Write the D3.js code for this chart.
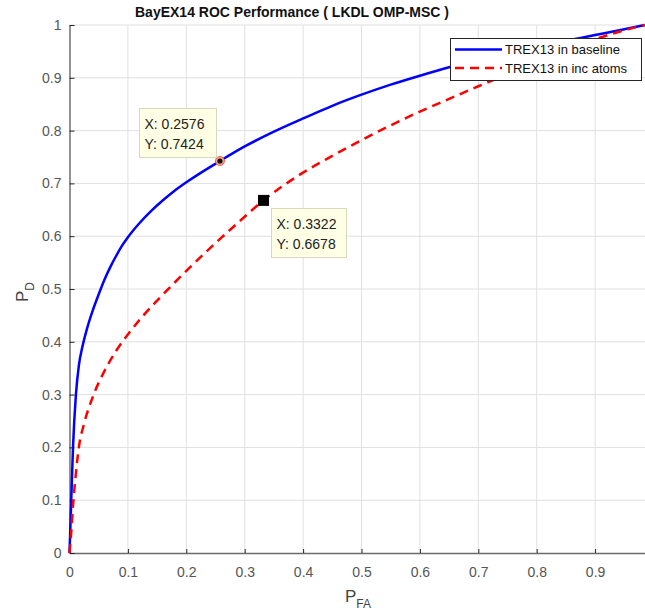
<!DOCTYPE html>
<html>
<head>
<meta charset="utf-8">
<script src="https://cdn.jsdelivr.net/npm/d3@7/dist/d3.min.js"></script>
<style>
  html, body { margin: 0; padding: 0; background: #fff; }
  svg { display: block; font-family: "Liberation Sans", Arial, sans-serif; }
</style>
</head>
<body>
<svg id="chart" width="645" height="613"></svg>
<script>
// ROC curves: probability of false alarm (x) vs probability of detection (y)
const baselinePfa = [0, 0.003, 0.006, 0.011, 0.016, 0.022, 0.03, 0.04, 0.05, 0.06, 0.07, 0.08, 0.09, 0.1, 0.12, 0.14, 0.16, 0.18, 0.2, 0.2576, 0.3, 0.35, 0.4, 0.45, 0.5, 0.55, 0.6, 0.65, 0.7, 0.75, 0.8, 0.85, 0.9, 0.95, 0.985];
const baselinePd  = [0, 0.1, 0.2, 0.3, 0.355, 0.39, 0.425, 0.46, 0.49, 0.518, 0.542, 0.563, 0.582, 0.598, 0.625, 0.648, 0.668, 0.686, 0.702, 0.7424, 0.77, 0.798, 0.823, 0.847, 0.868, 0.887, 0.904, 0.92, 0.934, 0.947, 0.959, 0.97, 0.981, 0.992, 1.0];
const incPfa = [0, 0.003, 0.006, 0.01, 0.016, 0.025, 0.04, 0.06, 0.08, 0.1, 0.125, 0.15, 0.178, 0.21, 0.25, 0.29, 0.3322, 0.395, 0.45, 0.5, 0.55, 0.6, 0.65, 0.7, 0.75, 0.8, 0.85, 0.9, 0.95, 0.985];
const incPd  = [0, 0.04, 0.09, 0.14, 0.2, 0.245, 0.296, 0.345, 0.383, 0.414, 0.448, 0.478, 0.51, 0.545, 0.587, 0.627, 0.6678, 0.717, 0.752, 0.782, 0.81, 0.836, 0.86, 0.884, 0.907, 0.93, 0.952, 0.973, 0.99, 1.0];

const seriesNames = ["TREX13 in baseline", "TREX13 in inc atoms"];
const xTicks = [0, 0.1, 0.2, 0.3, 0.4, 0.5, 0.6, 0.7, 0.8, 0.9];
const yTicks = [0, 0.1, 0.2, 0.3, 0.4, 0.5, 0.6, 0.7, 0.8, 0.9, 1];
const xTickLabels = ["0", "0.1", "0.2", "0.3", "0.4", "0.5", "0.6", "0.7", "0.8", "0.9"];
const yTickLabels = ["0", "0.1", "0.2", "0.3", "0.4", "0.5", "0.6", "0.7", "0.8", "0.9", "1"];

// Data tips: [pfa, pd]
const tipCircle = [0.2576, 0.7424];
const tipSquare = [0.3322, 0.6678];

const svg = d3.select("#chart");
const plotLeft = 69.5, plotRight = 653.5, plotTop = 25, plotBottom = 553;

const x = d3.scaleLinear().domain([0, 1]).range([plotLeft, plotRight]);
const y = d3.scaleLinear().domain([0, 1]).range([plotBottom, plotTop]);

// grid
const grid = svg.append("g");
grid.selectAll("line.gx").data(xTicks.slice(1)).join("line")
  .attr("x1", d => x(d)).attr("x2", d => x(d))
  .attr("y1", plotTop).attr("y2", plotBottom)
  .attr("stroke", "#e0e0e0").attr("stroke-width", 1);
grid.selectAll("line.gy").data(yTicks.slice(1)).join("line")
  .attr("x1", plotLeft).attr("x2", plotRight)
  .attr("y1", d => y(d)).attr("y2", d => y(d))
  .attr("stroke", "#e0e0e0").attr("stroke-width", 1);

// axes (ticks pointing inward)
const xAxis = d3.axisBottom(x).tickValues(xTicks)
  .tickFormat((d, i) => xTickLabels[i]).tickSizeInner(-4).tickSizeOuter(0).tickPadding(14);
const gx = svg.append("g").attr("transform", `translate(0,${plotBottom})`).call(xAxis);
gx.select(".domain").attr("stroke", "#6b6b6b").attr("stroke-width", 1.5);
gx.selectAll(".tick line").attr("stroke", "#262626");
gx.selectAll(".tick text").attr("fill", "#555").style("font-size", "14px")
  .style("font-family", "'Liberation Sans', Arial, sans-serif");

const yAxis = d3.axisLeft(y).tickValues(yTicks)
  .tickFormat((d, i) => yTickLabels[i]).tickSizeInner(-5).tickSizeOuter(0).tickPadding(8);
const gy = svg.append("g").attr("transform", `translate(${plotLeft},0)`).call(yAxis);
gy.select(".domain").attr("stroke", "#262626").attr("stroke-width", 1);
gy.selectAll(".tick line").attr("stroke", "#262626");
gy.selectAll(".tick text").attr("fill", "#555").style("font-size", "14px")
  .style("font-family", "'Liberation Sans', Arial, sans-serif");

// curves
const line = d3.line().x(d => x(d[0])).y(d => y(d[1])).curve(d3.curveMonotoneX);
const baseline = baselinePfa.map((v, i) => [v, baselinePd[i]]);
const incAtoms = incPfa.map((v, i) => [v, incPd[i]]);

svg.append("path").datum(baseline).attr("d", line)
  .attr("fill", "none").attr("stroke", "#0000ff").attr("stroke-width", 2.5);
svg.append("path").datum(incAtoms).attr("d", line)
  .attr("fill", "none").attr("stroke", "#ff0000").attr("stroke-width", 2.5)
  .attr("stroke-dasharray", "9,6");

// data tip markers
svg.append("circle").attr("cx", x(tipCircle[0])).attr("cy", y(tipCircle[1])).attr("r", 4.5)
  .attr("fill", "#f4a58f").attr("stroke", "#ff5a3c").attr("stroke-width", 1);
svg.append("circle").attr("cx", x(tipCircle[0])).attr("cy", y(tipCircle[1])).attr("r", 2.6)
  .attr("fill", "#111");
svg.append("rect").attr("x", x(tipSquare[0]) - 5.5).attr("y", y(tipSquare[1]) - 5.5)
  .attr("width", 11).attr("height", 11).attr("fill", "#000");

function dataTip(px, py, w, h, lines) {
  const g = svg.append("g");
  g.append("rect").attr("x", px).attr("y", py).attr("width", w).attr("height", h)
    .attr("fill", "#ffffe6").attr("stroke", "#d8d8c0").attr("stroke-width", 1);
  lines.forEach((t, i) => {
    g.append("text").attr("x", px + 5).attr("y", py + 20 + i * 20)
      .attr("fill", "#222").style("font-size", "14px").text(t);
  });
}
dataTip(139.5, 108.5, 77, 49, ["X: " + tipCircle[0].toFixed(4), "Y: " + tipCircle[1].toFixed(4)]);
dataTip(271.5, 208.5, 75, 49, ["X: " + tipSquare[0].toFixed(4), "Y: " + tipSquare[1].toFixed(4)]);

// legend
const lg = svg.append("g");
lg.append("rect").attr("x", 450.5).attr("y", 38.5).attr("width", 191).attr("height", 42)
  .attr("fill", "#fff").attr("stroke", "#262626").attr("stroke-width", 1);
const legendStyles = [{ c: "#0000ff", dash: null }, { c: "#ff0000", dash: "9,6" }];
seriesNames.forEach((name, i) => {
  const cy = 49.5 + i * 18.5;
  lg.append("line").attr("x1", 455).attr("x2", 502).attr("y1", cy).attr("y2", cy)
    .attr("stroke", legendStyles[i].c).attr("stroke-width", 2.5)
    .attr("stroke-dasharray", legendStyles[i].dash);
  lg.append("text").attr("x", 505).attr("y", cy + 4.5)
    .attr("fill", "#111").style("font-size", "13px").text(name);
});

// title
svg.append("text").attr("x", 292).attr("y", 17).attr("text-anchor", "middle")
  .attr("fill", "#111").style("font-size", "14px").style("font-weight", "bold")
  .text("BayEX14 ROC Performance ( LKDL OMP-MSC )");

// axis labels with subscripts
const xl = svg.append("text").attr("x", 345).attr("y", 602).attr("fill", "#444")
  .style("font-size", "17px");
xl.append("tspan").text("P");
xl.append("tspan").attr("dy", 6).style("font-size", "12px").text("FA");

const yl = svg.append("text").attr("transform", "translate(28,302) rotate(-90)")
  .attr("fill", "#444").style("font-size", "17px");
yl.append("tspan").text("P");
yl.append("tspan").attr("dy", 6).style("font-size", "12px").text("D");
</script>
</body>
</html>
